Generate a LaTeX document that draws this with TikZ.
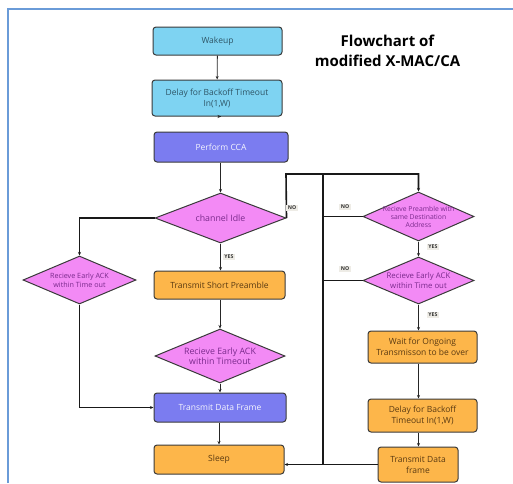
\documentclass[tikz,border=0pt]{standalone}
\usepackage{fontspec}
\setmainfont{Open Sans}
\usetikzlibrary{shapes.geometric,arrows.meta}
\definecolor{frameblue}{HTML}{6A9BD8}
\definecolor{lblue}{HTML}{7ED3F2}
\definecolor{pblue}{HTML}{7B7CF0}
\definecolor{orng}{HTML}{FDB64A}
\definecolor{pink}{HTML}{F38AF5}
\definecolor{bordr}{HTML}{3A3A3A}
\definecolor{tealtxt}{HTML}{2E5566}
\definecolor{browntxt}{HTML}{5A3A12}
\definecolor{purptxt}{HTML}{7A2A8C}
\definecolor{tagbg}{HTML}{EEECE6}
\tikzset{
  box/.style={draw=bordr, line width=1pt, rounded corners=3pt, align=center, inner sep=1pt, font=\fontsize{8.5}{11}\selectfont},
  bluebox/.style={box, fill=lblue, text=tealtxt},
  cca/.style={box, fill=pblue, text=white!92!pblue},
  orbox/.style={box, fill=orng, text=browntxt},
  dia/.style={diamond, draw=bordr, line width=1pt, fill=pink, inner sep=0pt},
  diatxt/.style={text=purptxt, align=center, font=\fontsize{8.8}{10.5}\selectfont},
  diasmall/.style={text=purptxt, align=center, font=\fontsize{6.8}{8}\selectfont},
  tag/.style={fill=tagbg, inner sep=1.5pt, font=\bfseries\fontsize{5.2}{6}\selectfont, text=black!80},
  arr/.style={-{Stealth[length=3.5pt,width=3pt]}, line width=0.8pt, draw=black!85},
  thick arr/.style={-{Stealth[length=3.5pt,width=3pt]}, line width=1.6pt, draw=black!90},
  thickline/.style={line width=1.6pt, draw=black!90},
}
\begin{document}
\begin{tikzpicture}[x=1pt,y=-1pt]
\useasboundingbox (0,0) rectangle (513,483);
\draw[frameblue, line width=1.6pt] (8,483) -- (8,9) -- (513,9);
% title
\node[font=\bfseries\fontsize{15}{20}\selectfont, align=center] (title) at (387.5,51) {Flowchart of\\modified X-MAC/CA};
% left column
\node[bluebox, minimum width=129pt, minimum height=28pt] (wake) at (217.5,41) {Wakeup};
\node[bluebox, minimum width=130pt, minimum height=36pt] (delay) at (217,98) {Delay for Backoff Timeout\\In(1,W)};
\node[cca, minimum width=134pt, minimum height=30pt] (cca) at (221,147) {Perform CCA};
\node[dia, minimum width=131pt, minimum height=50pt, label={[diatxt]center:channel Idle}] (idle) at (220.5,218) {};
\node[dia, minimum width=113pt, minimum height=48pt, label={[diasmall, font=\fontsize{7.2}{9}\selectfont]center:Recieve Early ACK\\within Time out}] (ld) at (79.5,280) {};
\node[orbox, minimum width=131pt, minimum height=28pt] (tsp) at (219.5,285) {Transmit Short Preamble};
\node[dia, minimum width=130pt, minimum height=54pt, label={[diatxt]center:Recieve Early ACK\\within Timeout}] (md) at (220,356) {};
\node[cca, minimum width=132pt, minimum height=29pt] (tdf) at (220,407.5) {Transmit Data Frame};
\node[orbox, minimum width=130pt, minimum height=29pt] (sleep) at (219,459.5) {Sleep};
% right column
\node[dia, minimum width=111pt, minimum height=49pt, label={[diasmall]center:Recieve Preamble with\\same Destination\\Address}] (rd1) at (418.5,216.5) {};
\node[dia, minimum width=111pt, minimum height=47pt, label={[diatxt, font=\fontsize{7.8}{10}\selectfont]center:Recieve Early ACK\\within Time out}] (rd2) at (418.5,280.5) {};
\node[orbox, minimum width=109pt, minimum height=32pt] (wait) at (422.5,347) {Wait for Ongoing\\Transmisson to be over};
\node[orbox, minimum width=109pt, minimum height=33pt] (delay2) at (422.5,415.5) {Delay for Backoff\\Timeout In(1,W)};
\node[orbox, minimum width=80pt, minimum height=35pt] (tdf2) at (418,464.5) {Transmit Data\\frame};
% helper coordinates
\coordinate (topR) at (286,174);
\coordinate (trunkTop) at (323,174);
\coordinate (trunkBot) at (323,464.5);
% connectors
\draw[arr] (wake) -- (delay);
\draw[arr] (delay) -- (delay.south -| cca.north);
\draw[arr] (cca.south -| idle.north) -- (idle.north);
\draw[thick arr] (idle.west) -- (ld.north |- idle.west) -- (ld.north);
\draw[thick arr] (ld.south) -- (ld.south |- tdf.west) -- (tdf.west);
\draw[arr] (idle.south) -- (idle.south |- tsp.north);
\draw[arr] (tsp.south -| md.north) -- (md.north);
\draw[arr] (md.south) -- (md.south |- tdf.north);
\draw[arr] (tdf.south -| sleep.north) -- (sleep.north);
\draw[thick arr] (idle.east) -- (topR) -- (rd1.north |- topR) -- (rd1.north);
\draw[thickline] (trunkTop) -- (trunkBot);
\draw[thickline] (rd1.west) -- (trunkTop |- rd1.west);
\draw[thickline] (rd2.west) -- (trunkTop |- rd2.west);
\draw[arr] (rd1.south) -- (rd2.north);
\draw[arr] (rd2.south) -- (rd2.south |- wait.north);
\draw[arr] (wait.south -| rd2.south) -- (delay2.north -| rd2.south);
\draw[arr] (delay2.south -| rd2.south) -- (tdf2.north -| rd2.south);
\draw[thick arr] (tdf2.west) -- (sleep.east |- tdf2.west);
% tags
\node[tag] (yes1) at (229,257) {YES};
\node[tag] (no1) at (292,208) {NO};
\node[tag] (no2) at (345,207) {NO};
\node[tag] (no3) at (345,269) {NO};
\node[tag] (yes2) at (433,247) {YES};
\node[tag] (yes3) at (433,315) {YES};
\end{tikzpicture}
\end{document}
